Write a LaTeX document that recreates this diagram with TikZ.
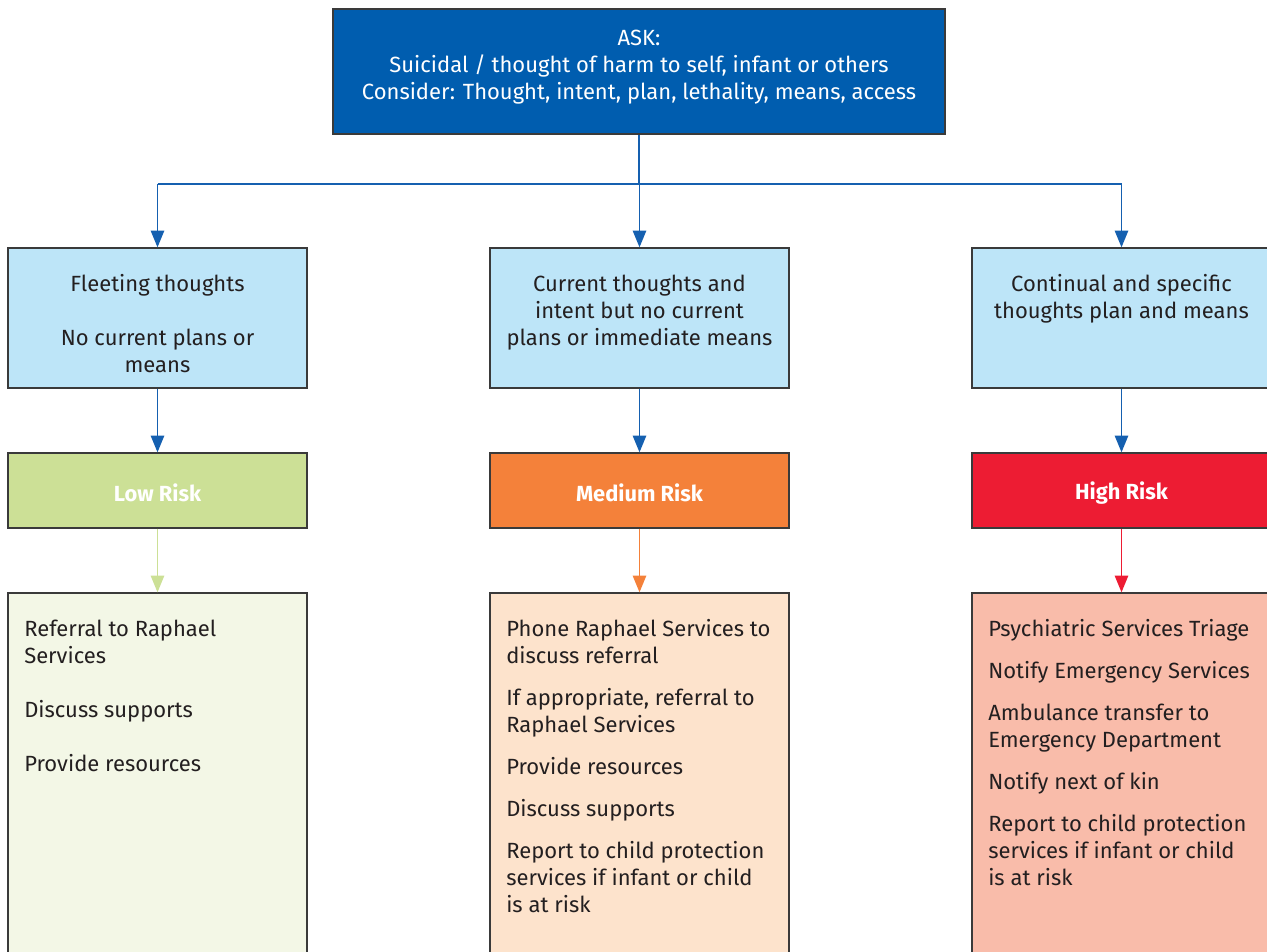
\documentclass[tikz,border=0pt]{standalone}
\usepackage{fontspec}
\setmainfont{Fira Sans}
\usetikzlibrary{arrows.meta,fit}
\definecolor{topblue}{HTML}{005DAF}
\definecolor{lightblue}{HTML}{BDE5F8}
\definecolor{bordergray}{HTML}{3A3A3A}
\definecolor{textgray}{HTML}{231F20}
\definecolor{connblue}{HTML}{1560B0}
\definecolor{lowgreen}{HTML}{CCE096}
\definecolor{medorange}{HTML}{F4813A}
\definecolor{highred}{HTML}{ED1C33}
\definecolor{palegreen}{HTML}{F3F7E6}
\definecolor{palepeach}{HTML}{FDE3CC}
\definecolor{palesalmon}{HTML}{F9BCAA}
\tikzset{
  box/.style={draw=bordergray, line width=1pt, inner sep=0pt},
  conn/.style={draw=connblue, line width=1.2pt},
  arr/.style={-{Triangle[width=10pt,length=12.5pt]}},
  txt/.style={text=textgray, inner sep=0pt},
  risktxt/.style={text=white, inner sep=0pt, font=\fontsize{16.4}{20.25}\selectfont\bfseries},
}
\begin{document}
\begin{tikzpicture}[x=0.75pt,y=-0.75pt, font=\fontsize{16.5}{20.25}\selectfont]
\useasboundingbox (0,0) rectangle (1267,951);
\clip (0,0) rectangle (1267,951);
% top box
\node[box, fill=topblue, fit={(333,9) (945,134)}] (top) {};
\node[txt, text=white, align=center, anchor=north] (toptxt) at (639,30)
  {ASK:\\Suicidal / thought of harm to self, infant or others\\Consider: Thought, intent, plan, lethality, means, access};
% row 2
\node[box, fill=lightblue, fit={(8,248) (307,388)}] (f1) {};
\node[box, fill=lightblue, fit={(490,248) (789,388)}] (f2) {};
\node[box, fill=lightblue, fit={(972,248) (1271,388)}] (f3) {};
\node[txt, align=center, anchor=north] (f1t) at (f1.north |- 0,274.5)
  {Fleeting thoughts\\[20.25pt]No current plans or\\means};
\node[txt, align=center, anchor=north] (f2t) at (f2.north |- 0,274.5)
  {Current thoughts and\\intent but no current\\plans or immediate means};
\node[txt, align=center, anchor=north] (f3t) at (1121.5,274.5)
  {Continual and specific\\thoughts plan and means};
% row 3
\node[box, fill=lowgreen, fit={(8,453) (307,528)}] (r1) {};
\node[box, fill=medorange, fit={(490,453) (789,528)}] (r2) {};
\node[box, fill=highred, fit={(972,453) (1271,528)}] (r3) {};
\node[risktxt] (r1t) at ([yshift=-2pt]r1.center) {Low Risk};
\node[risktxt] (r2t) at ([yshift=-2pt]r2.center) {Medium Risk};
\node[risktxt] (r3t) at ([yshift=-2pt]1121.5,490.5) {High Risk};
% row 4
\node[box, fill=palegreen, fit={(8,593) (307,960)}] (a1) {};
\node[box, fill=palepeach, fit={(490,593) (789,960)}] (a2) {};
\node[box, fill=palesalmon, fit={(972,593) (1271,960)}] (a3) {};
\node[txt, align=left, anchor=north west] (a1t) at (24,619.5)
  {Referral to Raphael\\Services\\[20.25pt]Discuss supports\\[20.25pt]Provide resources};
\node[txt, align=left, anchor=north west] (a2t) at (506,619.5)
  {Phone Raphael Services to\\discuss referral\\[11.25pt]If appropriate, referral to\\Raphael Services\\[11.25pt]Provide resources\\[11.25pt]Discuss supports\\[11.25pt]Report to child protection\\services if infant or child\\is at risk};
\node[txt, align=left, anchor=north west] (a3t) at (988,619.5)
  {Psychiatric Services Triage\\[11.25pt]Notify Emergency Services\\[11.25pt]Ambulance transfer to\\Emergency Department\\[11.25pt]Notify next of kin\\[11.25pt]Report to child protection\\services if infant or child\\is at risk};
% connectors
\coordinate (hm) at (639,184);
\coordinate (hl) at (157.5,184);
\coordinate (hr) at (1121.5,184);
\draw[conn] (top.south) -- (hm);
\draw[conn] (hl) -- (hr);
\draw[conn, arr] (hl) -- (f1.north);
\draw[conn, arr] (hm -| f2.north) -- (f2.north);
\draw[conn, arr] (hr) -- (f3.north);
\draw[conn, arr] (f1.south) -- (r1.north);
\draw[conn, arr] (f2.south) -- (r2.north);
\draw[conn, arr] (f3.south) -- (r3.north);
\draw[conn, draw=lowgreen, arr] (r1.south) -- (a1.north);
\draw[conn, draw=medorange, arr] (r2.south) -- (a2.north);
\draw[conn, draw=highred, arr] (r3.south) -- (a3.north);
\end{tikzpicture}
\end{document}
